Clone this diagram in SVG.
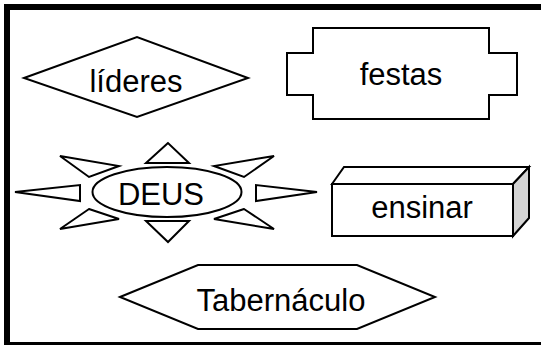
<svg xmlns="http://www.w3.org/2000/svg" width="541" height="345" viewBox="0 0 541 345">
<style>
.s{fill:#fff;stroke:#000;stroke-width:2;stroke-linejoin:miter}
.t{font-family:"Liberation Sans",Arial,sans-serif;font-size:31px;fill:#000;text-anchor:middle}
</style>
<rect x="0" y="0" width="541" height="345" fill="#fff"/>
<rect x="7" y="7" width="538" height="338" fill="none" stroke="#000" stroke-width="6"/>
<g id="connectors"></g>
<g id="lideres">
<polygon class="s" points="24,78 137,37 248,78 137,117"/>
<text class="t" x="136" y="92">líderes</text>
</g>
<g id="festas">
<polygon class="s" points="313,28 489,28 489,53 517,53 517,95 489,95 489,119 313,119 313,95 287,95 287,53 313,53"/>
<text class="t" x="401" y="85">festas</text>
</g>
<g id="deus">
<polygon class="s" points="168,143 146,163 189,163"/>
<polygon class="s" points="146,221 189,221 168,242"/>
<polygon class="s" points="15,192 80,185 80,201"/>
<polygon class="s" points="256,185 256,201 317,192"/>
<polygon class="s" points="60,156 119,166 89,177"/>
<polygon class="s" points="274,156 214,166 244,177"/>
<polygon class="s" points="89,209 119,219 60,229"/>
<polygon class="s" points="244,209 214,219 274,229"/>
<ellipse class="s" cx="167" cy="192" rx="74.5" ry="25"/>
<text class="t" x="161" y="205">DEUS</text>
</g>
<g id="ensinar">
<polygon class="s" points="332,184 344,167 529,167 513,184"/>
<polygon points="513,184 529,167 529,218 513,236" fill="#d4d4d4" stroke="#000" stroke-width="2"/>
<rect class="s" x="332" y="184" width="181" height="52"/>
<text class="t" x="422" y="218">ensinar</text>
</g>
<g id="tabernaculo">
<polygon class="s" points="120,297 198,265 357,265 435,297 357,329 198,329"/>
<text class="t" x="281" y="311">Tabernáculo</text>
</g>
</svg>
